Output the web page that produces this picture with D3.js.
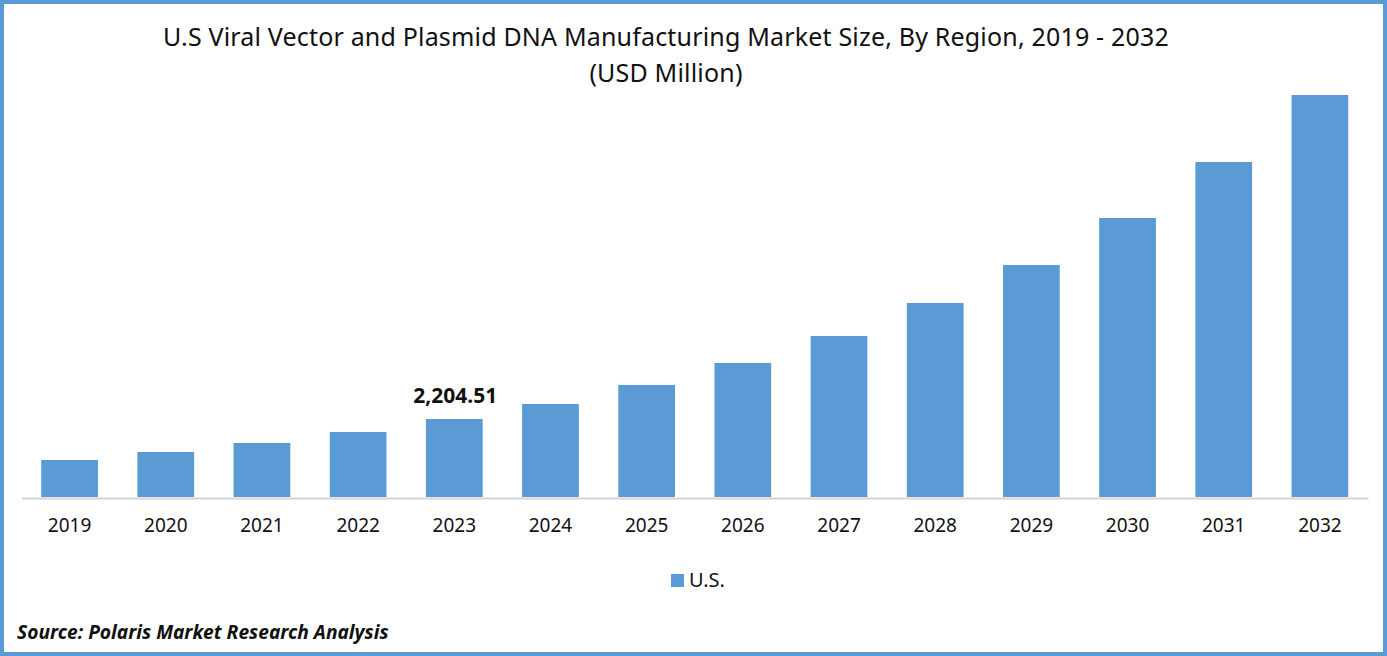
<!DOCTYPE html>
<html>
<head>
<meta charset="utf-8">
<script src="https://cdnjs.cloudflare.com/ajax/libs/d3/7.8.5/d3.min.js"></script>
<style>
  html, body { margin: 0; padding: 0; background: #fff; overflow: hidden; }
  svg { display: block; }
  text { font-family: "Noto Sans", "Open Sans", sans-serif; fill: #111; }
</style>
</head>
<body>
<div id="chart"></div>
<script>
// values (only 2023 is labelled in the source)
var years = ["2019", "2020", "2021", "2022", "2023", "2024", "2025", "2026", "2027", "2028", "2029", "2030", "2031", "2032"];
var usValues = [1046, 1272, 1526, 1837, 2204.51, 2628, 3165, 3787, 4550, 5483, 6557, 7885, 9468, 11361];
var labelled = ["2023"];
var titleLines = ["U.S Viral Vector and Plasmid DNA Manufacturing Market Size, By Region, 2019 - 2032", "(USD Million)"];

var width = 1387, height = 656;
var blue = "#5b9bd5";

var svg = d3.select("#chart").append("svg")
    .attr("width", width)
    .attr("height", height);

// outer frame
svg.append("rect")
    .attr("x", 2).attr("y", 2)
    .attr("width", width - 4).attr("height", height - 4)
    .attr("fill", "#fff")
    .attr("stroke", blue)
    .attr("stroke-width", 4);

var x = d3.scaleBand()
    .domain(years)
    .range([21.5, 1368])
    .paddingInner(0.41)
    .paddingOuter(0.205);

var y = d3.scaleLinear()
    .domain([0, d3.max(usValues)])
    .range([497, 95]);

// bars
svg.selectAll("rect.bar")
    .data(years)
    .enter().append("rect")
    .attr("class", "bar")
    .attr("x", d => x(d))
    .attr("y", (d, i) => y(usValues[i]))
    .attr("width", x.bandwidth())
    .attr("height", (d, i) => y(0) - y(usValues[i]))
    .attr("fill", blue);

// x axis
var axis = svg.append("g")
    .attr("transform", "translate(0,498)")
    .call(d3.axisBottom(x).tickSize(0).tickPadding(21));
axis.select(".domain").attr("stroke", "#d4d4d4").attr("stroke-width", 2);
axis.selectAll("text")
    .attr("font-size", 19)
    .style("font-family", '"Noto Sans", sans-serif')
    .attr("fill", "#111");

// data label
svg.selectAll("text.val")
    .data(labelled)
    .enter().append("text")
    .attr("class", "val")
    .attr("x", d => x(d) + x.bandwidth() / 2 + 1)
    .attr("y", d => y(usValues[years.indexOf(d)]) - 16)
    .attr("text-anchor", "middle")
    .attr("font-size", 21)
    .attr("font-weight", "bold")
    .text(d => d3.format(",.2f")(usValues[years.indexOf(d)]));

// title
svg.selectAll("text.title")
    .data(titleLines)
    .enter().append("text")
    .attr("class", "title")
    .attr("x", 666)
    .attr("y", (d, i) => 46 + i * 36)
    .attr("text-anchor", "middle")
    .attr("font-size", 25)
    .attr("letter-spacing", 0.18)
    .text(d => d);

// legend
svg.append("rect")
    .attr("x", 671).attr("y", 574)
    .attr("width", 13).attr("height", 13)
    .attr("fill", blue);
svg.append("text")
    .attr("x", 689).attr("y", 587)
    .attr("font-size", 20)
    .text("U.S.");

// source note
svg.append("text")
    .attr("x", 17).attr("y", 639)
    .attr("font-size", 19.2)
    .attr("font-weight", "bold")
    .attr("font-style", "italic")
    .text("Source: Polaris Market Research Analysis");
</script>
</body>
</html>
